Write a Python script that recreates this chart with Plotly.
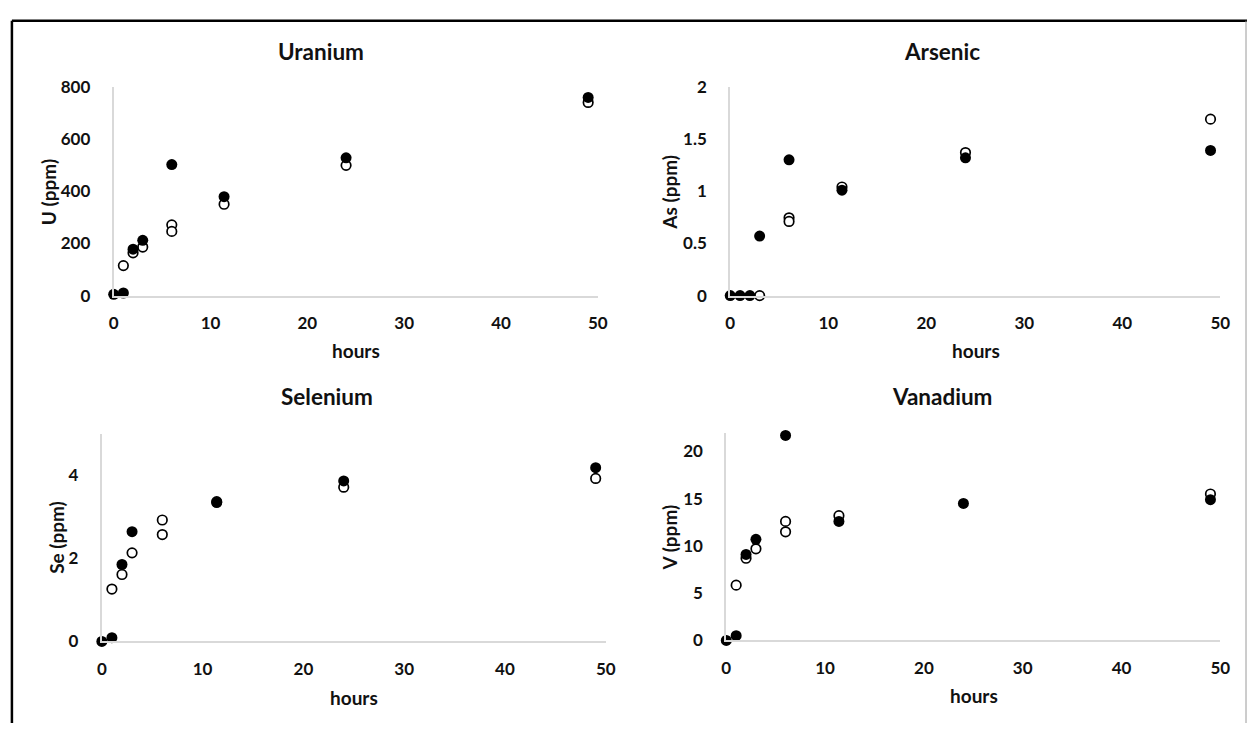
import plotly.graph_objects as go

# ---------------- data ----------------
U_filled_x = [0, 1, 2, 3, 6, 11.4, 24, 49]
U_filled_y = [5, 10, 178, 212, 502, 379, 528, 759]
U_open_x = [1, 2, 3, 6, 6, 11.4, 24, 49]
U_open_y = [115, 164, 186, 271, 246, 350, 499, 740]

As_filled_x = [0, 1, 2, 3, 6, 11.4, 24, 49]
As_filled_y = [0, 0, 0, 0.57, 1.30, 1.01, 1.32, 1.39]
As_open_x = [3, 6, 6, 11.4, 24, 49]
As_open_y = [0, 0.745, 0.71, 1.04, 1.37, 1.69]

Se_filled_x = [0, 1, 2, 3, 11.4, 24, 49]
Se_filled_y = [0, 0.09, 1.85, 2.64, 3.34, 3.86, 4.18]
Se_open_x = [1, 2, 3, 6, 6, 11.4, 24, 49]
Se_open_y = [1.26, 1.61, 2.13, 2.92, 2.57, 3.36, 3.71, 3.92]

V_filled_x = [0, 1, 2, 3, 6, 11.4, 24, 49]
V_filled_y = [0, 0.5, 9.1, 10.7, 21.7, 12.6, 14.5, 14.9]
V_open_x = [1, 2, 3, 6, 6, 11.4, 49]
V_open_y = [5.85, 8.7, 9.7, 12.6, 11.5, 13.2, 15.5]

titles = ["Uranium", "Arsenic", "Selenium", "Vanadium"]
y_titles = ["U (ppm)", "As (ppm)", "Se (ppm)", "V (ppm)"]
x_title = "hours"
y_ranges = [[0, 800], [0, 2], [0, 5], [0, 22]]
y_dticks = [200, 0.5, 2, 5]
x_range = [0, 50]
x_dtick = 10

# ---------------- layout helpers ----------------
W, H = 1257, 733
FONT = "Lato"
TXT = "#111111"


def px(x):
    return x / W


def py(y):
    return 1 - y / H


# panel geometry (pixels): x0, x1, y_bottom, y_top
panels = [
    (110, 600, 293, 78),
    (734, 1230, 293, 78),
    (98, 608, 649, 435),
    (730, 1230, 648, 434),
]
title_pos = [(320, 42), (948, 42), (326, 397), (948, 397)]
ytitle_pos = [(44, 186), (673, 186), (52, 542), (673, 542)]
xtitle_pos = [(355, 350), (983, 350), (353, 707), (981, 705)]

series = [
    (U_filled_x, U_filled_y, U_open_x, U_open_y),
    (As_filled_x, As_filled_y, As_open_x, As_open_y),
    (Se_filled_x, Se_filled_y, Se_open_x, Se_open_y),
    (V_filled_x, V_filled_y, V_open_x, V_open_y),
]

fig = go.Figure()
layout = dict(
    width=W, height=H,
    margin=dict(l=0, r=0, t=0, b=0),
    paper_bgcolor="white", plot_bgcolor="white",
    showlegend=False,
    font=dict(family=FONT, color=TXT),
)
annotations = []

for i, (fx, fy, ox, oy) in enumerate(series):
    n = "" if i == 0 else str(i + 1)
    xa, ya = "x" + n, "y" + n
    fig.add_trace(go.Scatter(
        x=ox, y=oy, mode="markers", xaxis=xa, yaxis=ya, cliponaxis=False,
        marker=dict(symbol="circle", size=9.5, color="white",
                    line=dict(color="black", width=1.7)),
    ))
    fig.add_trace(go.Scatter(
        x=fx, y=fy, mode="markers", xaxis=xa, yaxis=ya, cliponaxis=False,
        marker=dict(symbol="circle", size=11, color="black",
                    line=dict(color="black", width=0)),
    ))
    x0, x1, yb, yt = panels[i]
    layout["xaxis" + n] = dict(
        domain=[px(x0), px(x1)], range=x_range, dtick=x_dtick, tick0=0,
        anchor=ya, showgrid=False, zeroline=False,
        showline=True, linecolor="#d9d9d9", linewidth=2,
        ticks="", ticklabelstandoff=11,
        tickfont=dict(family=FONT, size=17, color=TXT, weight="bold"),
        fixedrange=True,
    )
    layout["yaxis" + n] = dict(
        domain=[py(yb), py(yt)], range=y_ranges[i], dtick=y_dticks[i], tick0=0,
        anchor=xa, showgrid=False, zeroline=False,
        showline=True, linecolor="#d9d9d9", linewidth=2,
        ticks="", ticklabelstandoff=18,
        tickfont=dict(family=FONT, size=17, color=TXT, weight="bold"),
        fixedrange=True,
    )
    tx, ty = title_pos[i]
    annotations.append(dict(
        text=titles[i], x=px(tx), y=py(ty), xref="paper", yref="paper",
        showarrow=False, xanchor="center", yanchor="middle",
        font=dict(family=FONT, size=22.5, color=TXT, weight="bold"),
    ))
    yx, yy = ytitle_pos[i]
    annotations.append(dict(
        text=y_titles[i], x=px(yx), y=py(yy), xref="paper", yref="paper",
        showarrow=False, xanchor="center", yanchor="middle", textangle=-90,
        font=dict(family=FONT, size=19, color=TXT, weight="bold"),
    ))
    hx, hy = xtitle_pos[i]
    annotations.append(dict(
        text=x_title, x=px(hx), y=py(hy), xref="paper", yref="paper",
        showarrow=False, xanchor="center", yanchor="middle",
        font=dict(family=FONT, size=19, color=TXT, weight="bold"),
    ))

layout["annotations"] = annotations
layout["shapes"] = [
    dict(type="line", xref="paper", yref="paper", x0=px(7), x1=1, y0=py(10), y1=py(10),
         line=dict(color="black", width=2.5)),
    dict(type="line", xref="paper", yref="paper", x0=px(7), x1=px(7), y0=py(10), y1=0,
         line=dict(color="black", width=2.5)),
    dict(type="line", xref="paper", yref="paper", x0=px(1256), x1=px(1256), y0=py(10), y1=0,
         line=dict(color="#9a9a9a", width=1)),
]
fig.update_layout(**layout)
fig.write_html(
    "out.html",
    config={"displayModeBar": False},
    post_script="document.body.style.margin='0';document.body.style.overflow='hidden';",
)
